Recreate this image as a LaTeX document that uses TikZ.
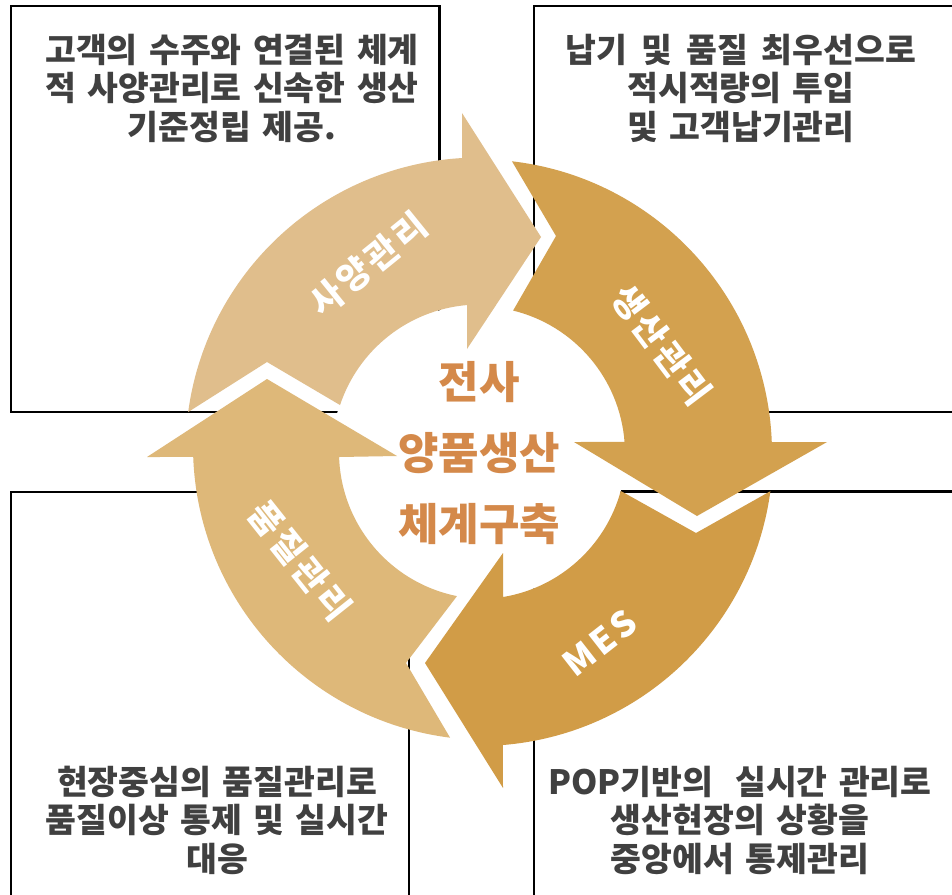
\documentclass[tikz,border=0pt]{standalone}
\usepackage{fontspec}
\newfontfamily\kr{Noto Sans CJK KR}[WordSpace=1.5]
\newfontfamily\krls{Noto Sans CJK KR}[LetterSpace=10]
\usetikzlibrary{calc}
\definecolor{boxtext}{HTML}{404040}
\definecolor{ctext}{HTML}{D4894A}
\definecolor{arrA}{HTML}{E0BE8C}
\definecolor{arrB}{HTML}{D3A14F}
\definecolor{arrC}{HTML}{D19C47}
\definecolor{arrD}{HTML}{DEB879}
\begin{document}
\begin{tikzpicture}[x=1pt,y=-1pt,
  panel/.style={draw=black, line width=2.5pt},
  desc/.style={font=\kr\bfseries\fontsize{33.5}{38.5}\selectfont, text=boxtext, align=center, inner sep=0pt},
  centre/.style={font=\kr\bfseries\fontsize{44}{71}\selectfont, text=ctext, align=center, inner sep=0pt},
  arrlabel/.style={font=\krls\bfseries\fontsize{35}{35}\selectfont, text=white, inner sep=0pt}]
\useasboundingbox (0,0) rectangle (952,894);
\clip (0,0) rectangle (952,894);
\fill[white] (0,0) rectangle (952,894);
% panels
\draw[panel] (11,6) rectangle (439.5,412);
\draw[panel] (534,6) rectangle (1000,412);
\draw[panel] (11,492) rectangle (409,950);
\draw[panel] (534,491.5) rectangle (1000,950);
% centre disk
\fill[white] (479,452) circle[radius=147];
% arrow centres
\coordinate (cA) at (479.5,451.5);
\coordinate (cB) at (478,453.3);
\coordinate (cC) at (479,452);
\coordinate (cDo) at (487,446);
\coordinate (cDi) at (486,452);
% arrow 1
\fill[arrA] ($(cA)+(187.72:294)$) arc[start angle=187.72, end angle=266.59, radius=294]
  -- (462,113) -- (541,237) -- (467,349) -- ($(cA)+(265.12:147)$)
  arc[start angle=265.12, end angle=198.43, radius=147] -- (267,362) -- cycle;
% arrow 2
\fill[arrB] ($(cB)+(276.63:294)$) arc[start angle=276.63, end angle=357.8, radius=294]
  -- (827,442) -- (697,516) -- (574,442) -- ($(cB)+(355.57:147)$)
  arc[start angle=355.57, end angle=283.82, radius=147] -- (556,236) -- cycle;
% arrow 3
\fill[arrC] ($(cC)+(7.66:294)$) arc[start angle=7.66, end angle=85.35, radius=294]
  -- (503,788) -- (425,663) -- (503,553) -- ($(cC)+(80.6:147)$)
  arc[start angle=80.6, end angle=15.36, radius=147] -- (696,533) -- cycle;
% arrow 4
\fill[arrD] ($(cDo)+(97.22:294)$) arc[start angle=97.22, end angle=177.86, radius=294]
  -- (147,457) -- (267,379) -- (397,456) -- ($(cDi)+(178.05:147)$)
  arc[start angle=178.05, end angle=101.39, radius=147] -- (406,663) -- cycle;
% arrow labels
\node[arrlabel, rotate=39] (l1) at (368,264) {사양관리};
\node[arrlabel, rotate=-53] (l2) at (661.5,345) {생산관리};
\node[arrlabel, rotate=38] (l3) at (600,643) {MES};
\node[arrlabel, rotate=-51.5] (l4) at (300,561) {품질관리};
% centre text
\node[centre] (ct) at (479,453) {전사\\양품생산\\체계구축};
% descriptions
\node[desc] (t1) at (232,88) {고객의 수주와 연결된 체계\\적 사양관리로 신속한 생산\\기준정립 제공.};
\node[desc] (t2) at (741,88) {납기\hspace{14pt}및\hspace{14pt}품질\hspace{14pt}최우선으로\\적시적량의 투입\\및 고객납기관리};
\node[desc] (t3) at (217,820) {현장중심의 품질관리로\\품질이상 통제 및 실시간\\대응};
\node[desc] (t4) at (740,820) {POP기반의\hspace{22pt}실시간 관리로\\생산현장의 상황을\\중앙에서 통제관리};
\end{tikzpicture}
\end{document}
